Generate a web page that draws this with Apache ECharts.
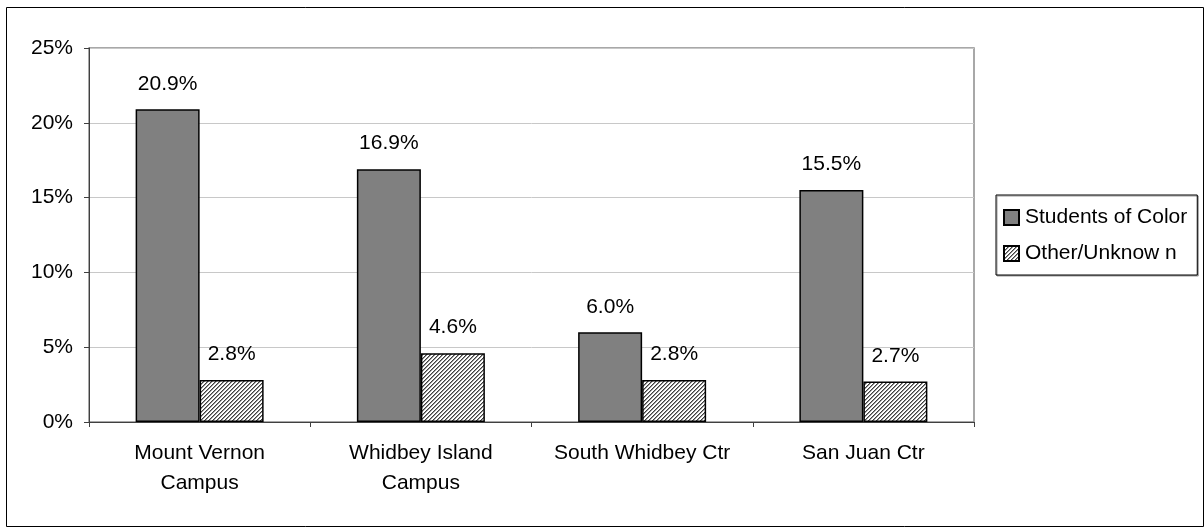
<!DOCTYPE html>
<html>
<head>
<meta charset="utf-8">
<script src="https://cdn.jsdelivr.net/npm/echarts@6/dist/echarts.min.js"></script>
<style>
  html, body { margin: 0; padding: 0; background: #fff; }
  #chart { width: 1204px; height: 527px; }
</style>
</head>
<body>
<div id="chart"></div>
<script>
// Campus categories and the two enrollment shares (percent)
const categories = ['Mount Vernon\nCampus', 'Whidbey Island\nCampus', 'South Whidbey Ctr', 'San Juan Ctr'];
const seriesNames = ['Students of Color', 'Other/Unknow n'];
const studentsOfColor = [20.9, 16.9, 6.0, 15.5];
const otherUnknown = [2.8, 4.6, 2.8, 2.7];
const yMin = 0, yMax = 25, yStep = 5;

const FONT = '"Liberation Sans", Arial, sans-serif';

// Fine diagonal hatch used for the second series
function hatchPattern() {
  const c = document.createElement('canvas');
  c.width = 4; c.height = 4;
  const ctx = c.getContext('2d');
  const img = ctx.createImageData(4, 4);
  const shades = [64, 150, 255, 255];
  for (let y = 0; y < 4; y++) {
    for (let x = 0; x < 4; x++) {
      const v = shades[(x + y) % 4];
      const i = (y * 4 + x) * 4;
      img.data[i] = v; img.data[i + 1] = v; img.data[i + 2] = v; img.data[i + 3] = 255;
    }
  }
  ctx.putImageData(img, 0, 0);
  return { image: c, repeat: 'repeat' };
}

const pctLabel = {
  show: true,
  position: 'top',
  distance: 15,
  fontFamily: FONT,
  fontSize: 21,
  color: '#000',
  formatter: p => p.value.toFixed(1) + '%'
};

const chart = echarts.init(document.getElementById('chart'), null, { renderer: 'canvas' });
chart.setOption({
  animation: false,
  backgroundColor: '#fff',
  grid: {
    left: 89, right: 230, top: 48, bottom: 105,
    show: true, borderColor: '#8c8c8c', borderWidth: 1.5, backgroundColor: 'transparent'
  },
  legend: {
    orient: 'vertical',
    left: 996, top: 195,
    padding: [12, 10, 11, 7],
    itemGap: 15,
    itemWidth: 15, itemHeight: 15,
    icon: 'rect',
    backgroundColor: '#fff',
    borderColor: '#000',
    borderWidth: 1,
    shadowColor: '#999',
    shadowOffsetX: 1,
    shadowOffsetY: 1,
    shadowBlur: 0,
    textStyle: { fontFamily: FONT, fontSize: 21, color: '#000', padding: [0, 0, 0, 1] },
    data: seriesNames
  },
  xAxis: {
    type: 'category',
    data: categories,
    boundaryGap: true,
    axisLine: { lineStyle: { color: '#404040', width: 1 } },
    axisTick: { show: true, alignWithLabel: false, inside: false, length: 5, lineStyle: { color: '#404040' } },
    axisLabel: { fontFamily: FONT, fontSize: 21, color: '#000', margin: 16, lineHeight: 30, interval: 0 },
    splitLine: { show: false }
  },
  yAxis: {
    type: 'value',
    min: yMin, max: yMax, interval: yStep,
    axisLine: { show: true, lineStyle: { color: '#404040', width: 1 } },
    axisTick: { show: true, inside: false, length: 5, lineStyle: { color: '#404040' } },
    axisLabel: { fontFamily: FONT, fontSize: 21, color: '#000', margin: 16, formatter: '{value}%' },
    splitLine: { show: true, lineStyle: { color: '#c8c8c8', width: 1 } }
  },
  series: [
    {
      name: seriesNames[0],
      type: 'bar',
      data: studentsOfColor,
      barWidth: 64,
      barGap: '0%',
      itemStyle: { color: '#808080', borderColor: '#000', borderWidth: 1.5 },
      label: pctLabel
    },
    {
      name: seriesNames[1],
      type: 'bar',
      data: otherUnknown,
      barWidth: 64,
      barGap: '0%',
      itemStyle: { color: hatchPattern(), borderColor: '#000', borderWidth: 1.5 },
      label: pctLabel
    }
  ],
  graphic: [
    {
      type: 'rect',
      silent: true,
      z: 100,
      shape: { x: 6.5, y: 7.5, width: 1197, height: 519 },
      style: { fill: null, stroke: '#000', lineWidth: 1 }
    }
  ]
});
</script>
</body>
</html>
